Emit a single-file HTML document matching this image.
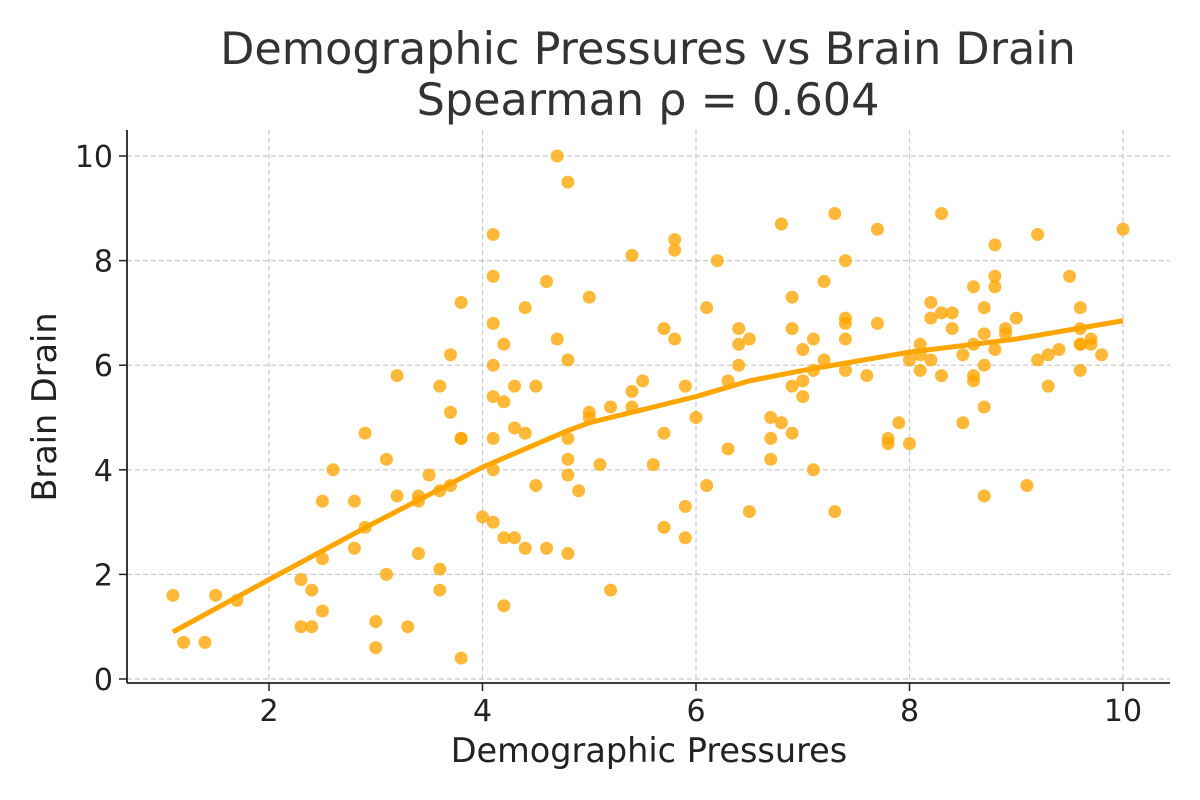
<!DOCTYPE html>
<html><head><meta charset="utf-8">
<style>
html,body{margin:0;padding:0;background:#fff;}
svg{display:block;font-family:"DejaVu Sans","Liberation Sans",sans-serif;}
</style></head>
<body>
<svg id="chart" width="1200" height="800" viewBox="0 0 1200 800">
<text x="648" y="64" text-anchor="middle" font-size="44.5" fill="#333">Demographic Pressures vs Brain Drain</text>
<text x="648" y="115" text-anchor="middle" font-size="44.5" fill="#333">Spearman ρ = 0.604</text>
<g id="grid"></g><g id="pts"></g><g id="trend"></g><g id="axes"></g>
<text x="649" y="762" text-anchor="middle" font-size="33.5" fill="#222">Demographic Pressures</text>
<text transform="translate(56,407) rotate(-90)" text-anchor="middle" font-size="33.5" fill="#222">Brain Drain</text>
</svg>
<script>
const xs=[1.1,1.2,1.4,1.5,1.7,2.3,2.3,2.4,2.4,2.5,2.5,2.5,2.6,2.8,2.8,2.9,2.9,3.0,3.0,3.1,3.1,3.2,3.2,3.3,3.4,3.4,3.4,3.5,3.6,3.6,3.6,3.6,3.7,3.7,3.7,3.8,3.8,3.8,3.8,4.0,4.1,4.1,4.1,4.1,4.1,4.1,4.1,4.1,4.2,4.2,4.2,4.2,4.3,4.3,4.3,4.4,4.4,4.4,4.5,4.5,4.6,4.6,4.7,4.7,4.8,4.8,4.8,4.8,4.8,4.8,4.9,5.0,5.0,5.0,5.1,5.2,5.2,5.4,5.4,5.4,5.5,5.6,5.7,5.7,5.7,5.8,5.8,5.8,5.9,5.9,5.9,6.0,6.1,6.1,6.2,6.3,6.3,6.4,6.4,6.4,6.5,6.5,6.7,6.7,6.7,6.8,6.8,6.9,6.9,6.9,6.9,7.0,7.0,7.0,7.1,7.1,7.1,7.2,7.2,7.3,7.3,7.4,7.4,7.4,7.4,7.4,7.6,7.7,7.7,7.8,7.8,7.9,8.0,8.0,8.1,8.1,8.1,8.2,8.2,8.2,8.3,8.3,8.3,8.4,8.4,8.5,8.5,8.6,8.6,8.6,8.6,8.7,8.7,8.7,8.7,8.7,8.8,8.8,8.8,8.8,8.9,8.9,9.0,9.1,9.2,9.2,9.3,9.3,9.4,9.5,9.6,9.6,9.6,9.6,9.6,9.7,9.7,9.8,10.0];
const ys=[1.6,0.7,0.7,1.6,1.5,1.9,1.0,1.0,1.7,2.3,1.3,3.4,4.0,3.4,2.5,4.7,2.9,1.1,0.6,4.2,2.0,5.8,3.5,1.0,3.5,3.4,2.4,3.9,5.6,3.6,2.1,1.7,6.2,5.1,3.7,7.2,4.6,4.6,0.4,3.1,8.5,7.7,6.8,6.0,5.4,4.6,4.0,3.0,6.4,5.3,2.7,1.4,5.6,4.8,2.7,7.1,4.7,2.5,5.6,3.7,7.6,2.5,10.0,6.5,9.5,6.1,4.6,4.2,3.9,2.4,3.6,7.3,5.1,5.0,4.1,5.2,1.7,8.1,5.5,5.2,5.7,4.1,6.7,4.7,2.9,8.4,8.2,6.5,5.6,3.3,2.7,5.0,7.1,3.7,8.0,5.7,4.4,6.7,6.4,6.0,6.5,3.2,5.0,4.6,4.2,8.7,4.9,7.3,6.7,5.6,4.7,6.3,5.7,5.4,6.5,5.9,4.0,7.6,6.1,8.9,3.2,8.0,6.9,6.8,6.5,5.9,5.8,8.6,6.8,4.6,4.5,4.9,6.1,4.5,6.4,6.2,5.9,7.2,6.9,6.1,8.9,7.0,5.8,7.0,6.7,6.2,4.9,7.5,6.4,5.8,5.7,7.1,6.6,6.0,5.2,3.5,8.3,7.7,7.5,6.3,6.7,6.6,6.9,3.7,8.5,6.1,6.2,5.6,6.3,7.7,7.1,6.7,6.4,6.4,5.9,6.5,6.4,6.2,8.6];
const trendX=[1.1,2,3,4,4.8,5,6,6.5,7,8,9,10];
const trendY=[0.9,1.9,3.0,4.05,4.75,4.9,5.4,5.7,5.9,6.25,6.5,6.85];
const xTicks=[2,4,6,8,10];
const yTicks=[0,2,4,6,8,10];
const NS="http://www.w3.org/2000/svg";
const X=v=>55.5+v*106.75, Y=v=>679-v*52.3;
const L=127,R=1170,T=130,B=683;
function mk(t,a,p){const e=document.createElementNS(NS,t);for(const k in a)e.setAttribute(k,a[k]);p.appendChild(e);return e;}
const grid=document.getElementById('grid'),axes=document.getElementById('axes');
xTicks.forEach(v=>{
 const g=mk('line',{x1:X(v),x2:X(v),y1:T,y2:B,stroke:'#c8c8c8','stroke-width':1.2,'stroke-dasharray':'5,3'},grid);
 
 
 mk('line',{x1:X(v),x2:X(v),y1:B,y2:B+8,stroke:'#222','stroke-width':1.5},axes);
 const t=mk('text',{x:X(v),y:B+38,'text-anchor':'middle','font-size':30,fill:'#222'},axes);t.textContent=v;
 
 
});
yTicks.forEach(v=>{
 const g=mk('line',{x1:L,x2:R,y1:Y(v),y2:Y(v),stroke:'#c8c8c8','stroke-width':1.2,'stroke-dasharray':'5,3'},grid);
 
 
 mk('line',{x1:L-8,x2:L,y1:Y(v),y2:Y(v),stroke:'#222','stroke-width':1.5},axes);
 const t=mk('text',{x:L-14,y:Y(v)+11,'text-anchor':'end','font-size':30,fill:'#222'},axes);t.textContent=v;
 
 
});
mk('line',{x1:L,x2:L,y1:T,y2:B,stroke:'#222','stroke-width':1.8},axes);
mk('line',{x1:L,x2:R,y1:B,y2:B,stroke:'#222','stroke-width':1.8},axes);
const pts=document.getElementById('pts');
xs.forEach((v,i)=>{
 const c=mk('circle',{cx:X(v),cy:Y(ys[i]),r:6.5,fill:'#FFA500','fill-opacity':0.78},pts);
 
 
});
const p=mk('polyline',{points:trendX.map((v,i)=>X(v)+','+Y(trendY[i])).join(' '),fill:'none',stroke:'#FFA500','stroke-width':5,'stroke-linejoin':'round'},document.getElementById('trend'));


</script>
</body></html>
